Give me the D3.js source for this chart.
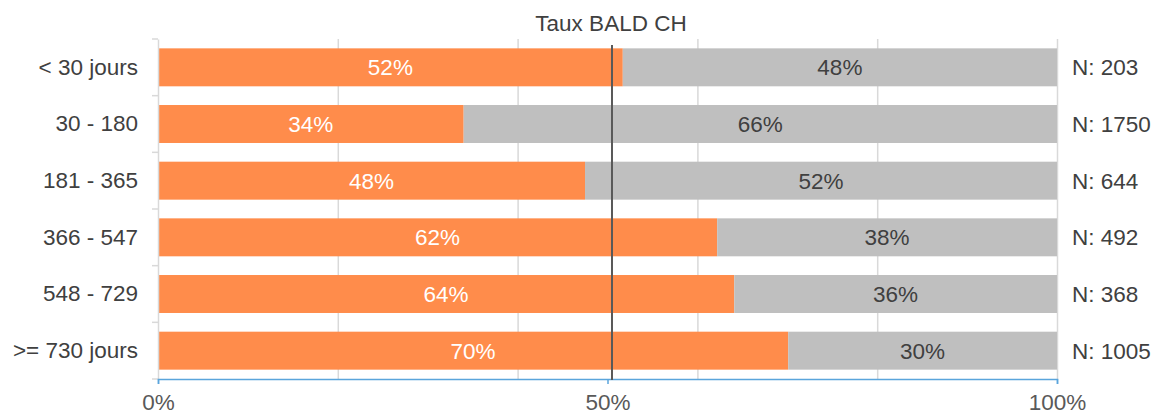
<!DOCTYPE html>
<html><head><meta charset="utf-8">
<script src="https://cdn.jsdelivr.net/npm/d3@7"></script>
<style>body{margin:0;background:#fff}svg{display:block;font-family:"Liberation Sans",Arial,sans-serif}</style>
</head><body><svg id="c" width="1152" height="415"></svg>
<script>
const categories = ["< 30 jours","30 - 180","181 - 365","366 - 547","548 - 729",">= 730 jours"];
const oui = [51.7, 34.0, 47.5, 62.2, 64.1, 70.1];
const non = [48.3, 66.0, 52.5, 37.8, 35.9, 29.9];
const ouiLabels = ["52%","34%","48%","62%","64%","70%"];
const nonLabels = ["48%","66%","52%","38%","36%","30%"];
const counts = ["N: 203","N: 1750","N: 644","N: 492","N: 368","N: 1005"];
const refValue = 50.5;
const gridTicks = [0,20,40,60,80,100];
const axisTicks = [0,50,100];
const title = "Taux BALD CH";

const FS = 22.5;
const svg = d3.select("#c");
const L=158, R=1057, T=39, B=379;
const x = d3.scaleLinear().domain([0,100]).range([L,R]);
const y = d3.scaleBand().domain(categories).range([T,B]).paddingInner(0.33).paddingOuter(0.165);
const txt="#404040";

// gridlines
svg.append("g").selectAll("line").data(gridTicks.slice(1)).join("line")
  .attr("x1",d=>x(d)+0.5).attr("x2",d=>x(d)+0.5).attr("y1",T).attr("y2",B)
  .attr("stroke","#d9d9d9").attr("stroke-width",1.5);

// bars
const rows = categories.map((c,i)=>({c,o:oui[i],n:non[i],ol:ouiLabels[i],nl:nonLabels[i],cnt:counts[i]}));
const g = svg.append("g");
g.selectAll(".o").data(rows).join("rect").attr("class","o")
  .attr("x",x(0)).attr("y",d=>y(d.c)).attr("width",d=>x(d.o)-x(0)).attr("height",y.bandwidth()).attr("fill","#ff8c4b");
g.selectAll(".n").data(rows).join("rect").attr("class","n")
  .attr("x",d=>x(d.o)).attr("y",d=>y(d.c)).attr("width",d=>x(d.o+d.n)-x(d.o)).attr("height",y.bandwidth()).attr("fill","#bfbfbf");

// left axis
const ya = d3.axisLeft(y).tickSize(0).tickPadding(20);
const yg = svg.append("g").attr("transform",`translate(${L},0)`).call(ya);
yg.select(".domain").attr("stroke","#d9d9d9").attr("stroke-width",1.5);
yg.selectAll("text").attr("font-size",FS).attr("fill",txt).attr("font-family","Liberation Sans, Arial, sans-serif");
// category boundary ticks
const bounds = categories.map(c=>y(c)-y.step()*y.paddingInner()/2).concat([B]);
bounds[0]=T;
svg.append("g").selectAll("line").data(bounds).join("line")
  .attr("x1",L-6).attr("x2",L).attr("y1",d=>d).attr("y2",d=>d).attr("stroke","#d9d9d9").attr("stroke-width",1.5);

// bottom axis
const xa = d3.axisBottom(x).tickValues(axisTicks).tickFormat(d=>d+"%").tickSize(5).tickPadding(10);
const xg = svg.append("g").attr("transform",`translate(0,${B})`).call(xa);
xg.select(".domain").attr("stroke","#5aa5dc").attr("stroke-width",1.5);
xg.selectAll(".tick line").attr("stroke","#5aa5dc").attr("stroke-width",1.5);
xg.selectAll("text").attr("font-size",FS).attr("fill","#595959").attr("font-family","Liberation Sans, Arial, sans-serif");

// reference line
svg.append("line").attr("x1",x(refValue)).attr("x2",x(refValue)).attr("y1",T+6).attr("y2",B+1)
  .attr("stroke","#595959").attr("stroke-width",2);

// labels
g.selectAll(".ol").data(rows).join("text")
  .attr("x",d=>(x(0)+x(d.o))/2).attr("y",d=>y(d.c)+y.bandwidth()/2).attr("dy","0.35em")
  .attr("text-anchor","middle").attr("font-size",FS).attr("fill","#fff").text(d=>d.ol);
g.selectAll(".nl").data(rows).join("text")
  .attr("x",d=>(x(d.o)+x(d.o+d.n))/2).attr("y",d=>y(d.c)+y.bandwidth()/2).attr("dy","0.35em")
  .attr("text-anchor","middle").attr("font-size",FS).attr("fill",txt).text(d=>d.nl);
g.selectAll(".cnt").data(rows).join("text")
  .attr("x",R+15).attr("y",d=>y(d.c)+y.bandwidth()/2).attr("dy","0.35em")
  .attr("font-size",FS).attr("fill",txt).text(d=>d.cnt);

svg.append("text").attr("x",611).attr("y",31).attr("text-anchor","middle").attr("font-size",FS).attr("fill",txt).text(title);
</script></body></html>
